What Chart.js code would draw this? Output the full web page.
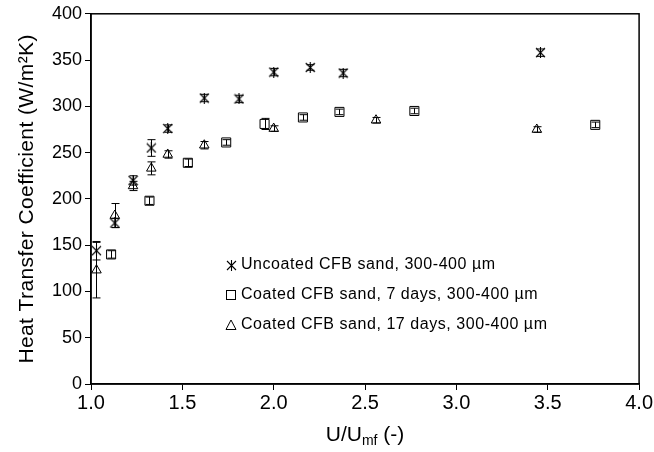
<!DOCTYPE html>
<html>
<head>
<meta charset="utf-8">
<script src="https://cdn.jsdelivr.net/npm/chart.js@4"></script>
<style>
  html, body { margin: 0; padding: 0; background: #fff; }
  #wrap { width: 654px; height: 452px; }
</style>
</head>
<body>
<div id="wrap"><canvas id="chart" width="654" height="452"></canvas></div>
<script>
// values
const xUncoated = [1.03, 1.13, 1.23, 1.33, 1.42, 1.62, 1.81, 2.00, 2.20, 2.38, 3.46];
const yUncoated = [144, 174, 220, 255, 276, 309, 308, 337, 342, 336, 358];
const eUncoated = [10, 5, 5, 9, 4, 4, 4, 4, 3, 4, 4];

const xCoated7 = [1.11, 1.32, 1.53, 1.74, 1.95, 2.16, 2.36, 2.77, 3.76];
const yCoated7 = [140, 198, 239, 261, 281, 288, 294, 295, 280];
const eCoated7 = [4, 4, 4, 3, 6, 3, 3, 3, 3];

const xCoated17 = [1.03, 1.13, 1.23, 1.33, 1.42, 1.62, 2.00, 2.56, 3.44];
const yCoated17 = [123, 182, 214, 233, 248, 258, 276, 285, 275];
const eCoated17 = [30, 13, 5, 7, 4, 4, 3, 3, 3];

const xTicks = [1.0, 1.5, 2.0, 2.5, 3.0, 3.5, 4.0];

const seriesLabels = [
    'Uncoated CFB sand, 300-400 µm',
    'Coated CFB sand, 7 days, 300-400 µm',
    'Coated CFB sand, 17 days, 300-400 µm',
];

const FONT = 'Liberation Sans, Arial, sans-serif';

// asterisk marker: an X with a vertical stroke
function makeAsterisk(size) {
    const c = document.createElement('canvas');
    c.width = size;
    c.height = size;
    const g = c.getContext('2d');
    g.strokeStyle = '#000';
    g.lineWidth = 1.1;
    const m = 1, s = size - 1;
    g.beginPath();
    g.moveTo(m, m); g.lineTo(s, s);
    g.moveTo(s, m); g.lineTo(m, s);
    g.moveTo(size / 2, m - 1); g.lineTo(size / 2, s + 1);
    g.stroke();
    return c;
}
const asterisk = makeAsterisk(11);

function toPoints(xs, ys, es) {
    return xs.map((x, i) => ({ x: x, y: ys[i], err: es[i] }));
}

const errorBars = {
    id: 'errorBars',
    afterDatasetsDraw(chart) {
        const ctx = chart.ctx;
        const xs = chart.scales.x, ys = chart.scales.y;
        ctx.save();
        ctx.strokeStyle = '#000';
        ctx.lineWidth = 1;
        chart.data.datasets.forEach(ds => {
            ds.data.forEach(p => {
                const px = Math.round(xs.getPixelForValue(p.x)) + 0.5;
                const top = ys.getPixelForValue(p.y + p.err);
                const bot = ys.getPixelForValue(p.y - p.err);
                ctx.beginPath();
                ctx.moveTo(px, top); ctx.lineTo(px, bot);
                ctx.moveTo(px - 4, top); ctx.lineTo(px + 4, top);
                ctx.moveTo(px - 4, bot); ctx.lineTo(px + 4, bot);
                ctx.stroke();
            });
        });
        ctx.restore();
    }
};

const decorations = {
    id: 'decorations',
    afterDraw(chart) {
        const ctx = chart.ctx;
        const a = chart.chartArea;
        ctx.save();
        // frame
        ctx.strokeStyle = '#000';
        ctx.lineWidth = 1.5;
        ctx.strokeRect(a.left, a.top, a.right - a.left, a.bottom - a.top);

        // legend
        ctx.fillStyle = '#000';
        ctx.font = '16px ' + FONT;
        ctx.textBaseline = 'middle';
        const lx = 231, ly = [265, 295, 325];
        ctx.drawImage(asterisk, lx - 5, ly[0] - 5);
        ctx.lineWidth = 1;
        ctx.strokeRect(lx - 4.5, ly[1] - 4.5, 9, 9);
        ctx.beginPath();
        ctx.moveTo(lx, ly[2] - 5);
        ctx.lineTo(lx + 5, ly[2] + 4.5);
        ctx.lineTo(lx - 5, ly[2] + 4.5);
        ctx.closePath();
        ctx.stroke();
        ctx.letterSpacing = '0.55px';
        seriesLabels.forEach((t, i) => ctx.fillText(t, lx + 10, ly[i]));
        ctx.letterSpacing = '0px';

        // y axis title
        ctx.save();
        ctx.translate(27, (a.top + a.bottom) / 2);
        ctx.rotate(-Math.PI / 2);
        ctx.textAlign = 'center';
        ctx.textBaseline = 'middle';
        ctx.font = '21px ' + FONT;
        ctx.letterSpacing = '0.4px';
        ctx.fillText('Heat Transfer Coefficient (W/m²K)', 0, 0);
        ctx.restore();

        // x axis title with subscript
        const cx = (a.left + a.right) / 2;
        const by = 441;
        ctx.textBaseline = 'alphabetic';
        ctx.textAlign = 'left';
        const big = '21px ' + FONT, small = '14px ' + FONT;
        ctx.font = big;
        const w1 = ctx.measureText('U/U').width;
        const w3 = ctx.measureText(' (-)').width;
        ctx.font = small;
        const w2 = ctx.measureText('mf').width;
        const x0 = cx - (w1 + w2 + w3) / 2;
        ctx.font = big;
        ctx.fillText('U/U', x0, by);
        ctx.font = small;
        ctx.fillText('mf', x0 + w1, by + 4);
        ctx.font = big;
        ctx.fillText(' (-)', x0 + w1 + w2, by);
        ctx.restore();
    }
};

new Chart(document.getElementById('chart'), {
    type: 'scatter',
    data: {
        datasets: [
            {
                label: seriesLabels[0],
                data: toPoints(xUncoated, yUncoated, eUncoated),
                pointStyle: asterisk,
                pointRadius: 5,
            },
            {
                label: seriesLabels[1],
                data: toPoints(xCoated7, yCoated7, eCoated7),
                pointStyle: 'rect',
                pointRadius: 6.4,
                borderColor: '#000',
                borderWidth: 1,
                backgroundColor: 'rgba(0,0,0,0)',
            },
            {
                label: seriesLabels[2],
                data: toPoints(xCoated17, yCoated17, eCoated17),
                pointStyle: 'triangle',
                pointRadius: 5.5,
                borderColor: '#000',
                borderWidth: 1,
                backgroundColor: 'rgba(0,0,0,0)',
            },
        ],
    },
    options: {
        responsive: false,
        animation: false,
        events: [],
        layout: { padding: { top: 13, right: 13, left: 0, bottom: 0 } },
        plugins: {
            legend: { display: false },
            tooltip: { enabled: false },
        },
        scales: {
            x: {
                type: 'linear',
                min: 1.0,
                max: 4.0,
                afterFit: s => { s.height = 68; },
                afterBuildTicks: s => {
                    s.ticks = xTicks.map(v => ({ value: v }));
                },
                grid: { drawOnChartArea: false, tickLength: 6, color: '#000', lineWidth: 1 },
                border: { color: '#000', width: 1.5 },
                ticks: {
                    color: '#000',
                    font: { family: FONT, size: 20 },
                    padding: 1,
                    maxRotation: 0,
                    callback: v => v.toFixed(1),
                },
            },
            y: {
                min: 0,
                max: 400,
                afterFit: s => { s.width = 91; },
                grid: { drawOnChartArea: false, tickLength: 6, color: '#000', lineWidth: 1 },
                border: { color: '#000', width: 1.5 },
                ticks: {
                    stepSize: 50,
                    color: '#000',
                    font: { family: FONT, size: 18 },
                    padding: 3,
                },
            },
        },
    },
    plugins: [errorBars, decorations],
});
</script>
</body>
</html>
